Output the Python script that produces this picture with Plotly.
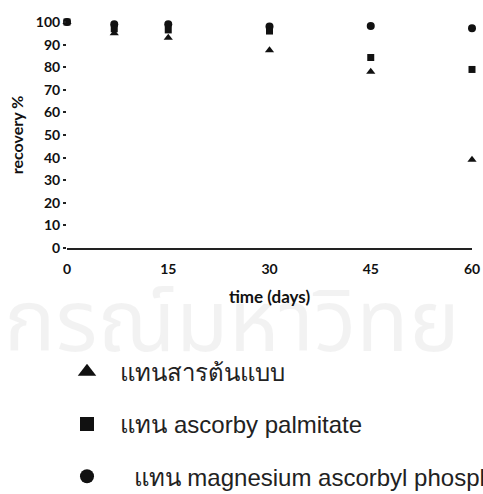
import plotly.graph_objects as go

days = [0, 7, 15, 30, 45, 60]
reference = [100, 95, 93, 87.5, 78, 39]          # แทนสารต้นแบบ (triangle)
palmitate = [100, 97, 96.5, 96, 84.3, 79]        # ascorby palmitate (square)
magnesium = [100, 99, 99, 98, 98.2, 97.2]        # magnesium ascorbyl phosphate (circle)

names = ["  แทนสารต้นแบบ", "  แทน ascorby palmitate", "    แทน magnesium ascorbyl phosphate"]
x_ticks = [0, 15, 30, 45, 60]
y_ticks = [0, 10, 20, 30, 40, 50, 60, 70, 80, 90, 100]

series = [
    (reference, "triangle-up", 8, 16, names[0], 1),
    (magnesium, "circle", 8, 14, names[2], 3),
    (palmitate, "square", 7, 14, names[1], 2),
]

fig = go.Figure()
for vals, sym, sz, lsz, nm, rank in series:
    fig.add_trace(go.Scatter(x=days, y=vals, mode="markers", name=nm, showlegend=False,
                             marker=dict(symbol=sym, size=sz, color="#111"), cliponaxis=False))
for vals, sym, sz, lsz, nm, rank in series:
    fig.add_trace(go.Scatter(x=[None], y=[None], mode="markers", name=nm, showlegend=True,
                             marker=dict(symbol=sym, size=lsz, color="#111"),
                             legendrank=rank, legendgroup=str(rank)))

fig.add_annotation(text="กรณ์มหาวิทย", xref="paper", yref="paper", x=-0.16, y=-0.34,
                   xanchor="left", yanchor="middle", showarrow=False,
                   font=dict(size=86, color="rgba(0,0,0,0.05)", family="Noto Sans Thai, Noto Sans, sans-serif"))

fig.update_layout(
    width=483, height=494,
    margin=dict(l=67, r=11, t=22, b=246, autoexpand=False),
    paper_bgcolor="white", plot_bgcolor="white",
    font=dict(family="Lato, sans-serif", color="#111"),
    showlegend=True,
    legend=dict(x=0.0, y=-0.45, xanchor="left", yanchor="top",
                font=dict(family="Liberation Sans, Arial, sans-serif", size=24, color="#222"),
                traceorder="grouped", tracegroupgap=18, itemsizing="trace",
                bgcolor="rgba(0,0,0,0)"),
    xaxis=dict(range=[0, 60], tickvals=x_ticks, ticks="", showgrid=False, zeroline=False,
               showline=True, linecolor="#222", linewidth=1.5, automargin=False,
               ticklabelstandoff=7,
               tickfont=dict(size=14, family="Lato", weight="bold"),
               title=dict(text="time (days)", font=dict(size=17, family="Lato", weight="bold"), standoff=16)),
    yaxis=dict(range=[0, 100], tickvals=y_ticks, ticks="outside", ticklen=3, tickwidth=1.5,
               tickcolor="#222", showgrid=False, zeroline=False, showline=False, automargin=False,
               tickfont=dict(size=14, family="Lato", weight="bold"),
               title=dict(text="recovery %", font=dict(size=16, family="Lato", weight="bold"), standoff=8)),
)

fig.write_html("out.html")
